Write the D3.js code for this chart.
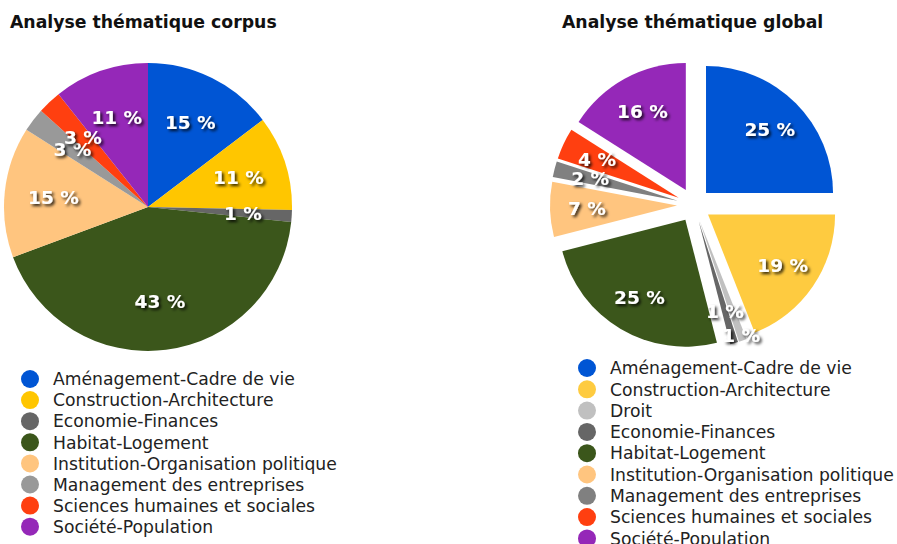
<!DOCTYPE html>
<html>
<head>
<meta charset="utf-8">
<script src="https://cdn.jsdelivr.net/npm/d3@7"></script>
<style>
  body { margin: 0; background: #fff; }
  text { font-family: "DejaVu Sans", Verdana, sans-serif; }
</style>
</head>
<body>
<div id="graph_container"></div>
<script>
// corpus data (counts)
var corpusThemes = ["Aménagement-Cadre de vie", "Construction-Architecture", "Economie-Finances",
    "Habitat-Logement", "Institution-Organisation politique", "Management des entreprises",
    "Sciences humaines et sociales", "Société-Population"];
var corpusValues = [11, 8, 1, 32, 11, 2, 2, 8];
var corpusColors = ["#0055d4", "#ffc600", "#666666", "#3b561b", "#ffc57f", "#999999", "#ff3f10", "#9528b8"];

// global data (percent)
var globalThemes = ["Aménagement-Cadre de vie", "Construction-Architecture", "Droit", "Economie-Finances",
    "Habitat-Logement", "Institution-Organisation politique", "Management des entreprises",
    "Sciences humaines et sociales", "Société-Population"];
var globalValues = [25, 19, 1, 1, 25, 7, 2, 4, 16];
var globalColors = ["#0055d4", "#fecb40", "#c0c0c0", "#666666", "#3b561b", "#ffc57f", "#808080", "#ff3f10", "#9528b8"];

var W = 897, H = 544;

var svg = d3.select("#graph_container").append("svg")
    .attr("width", W)
    .attr("height", H);

// shadow for the white labels
var defs = svg.append("defs");
defs.append("filter")
    .attr("id", "shadow")
    .attr("x", "-30%").attr("y", "-30%")
    .attr("width", "160%").attr("height", "160%")
  .append("feDropShadow")
    .attr("dx", 2).attr("dy", 2)
    .attr("stdDeviation", 1.5)
    .attr("flood-color", "#000")
    .attr("flood-opacity", 0.85);

function drawPie(opts) {
    var g = svg.append("g");

    g.append("text")
        .attr("x", opts.titleX)
        .attr("y", 28)
        .attr("font-size", "17.3px")
        .attr("font-weight", "bold")
        .attr("fill", "#111")
        .text(opts.title);

    var total = d3.sum(opts.values);
    var pie = d3.pie().sort(null).value(function(d) { return d; });
    var arcs = pie(opts.values);

    var arc = d3.arc().innerRadius(0).outerRadius(opts.r);
    var labelArc = d3.arc()
        .innerRadius(0)
        .outerRadius(function(d, i) { return opts.r * 2 * (opts.labelR[i] || opts.labelK); });

    function shift(d) {
        var a = (d.startAngle + d.endAngle) / 2;
        return [Math.sin(a) * opts.explode, -Math.cos(a) * opts.explode];
    }

    var pieG = g.append("g")
        .attr("transform", "translate(" + opts.cx + "," + opts.cy + ")");

    pieG.selectAll("path")
        .data(arcs)
        .enter()
        .append("path")
        .attr("transform", function(d) { return "translate(" + shift(d) + ")"; })
        .attr("d", arc)
        .attr("fill", function(d, i) { return opts.colors[i]; });

    // labels on top of every slice
    pieG.selectAll("text")
        .data(arcs)
        .enter()
        .append("text")
        .attr("transform", function(d, i) {
            var c = labelArc.centroid(d, i), s = shift(d);
            return "translate(" + (c[0] + s[0]) + "," + (c[1] + s[1]) + ")";
        })
        .attr("text-anchor", "middle")
        .attr("dy", "0.36em")
        .attr("font-size", "18.5px")
        .attr("font-weight", "bold")
        .attr("fill", "#fff")
        .attr("filter", "url(#shadow)")
        .text(function(d) { return Math.round(d.value / total * 100) + " %"; });

    // legend
    var leg = g.selectAll("g.leg")
        .data(opts.themes)
        .enter()
        .append("g")
        .attr("class", "leg")
        .attr("transform", function(d, i) {
            return "translate(" + opts.legX + "," + (opts.legY + i * opts.legStep) + ")";
        });

    leg.append("circle")
        .attr("r", 9)
        .attr("fill", function(d, i) { return opts.colors[i]; });

    leg.append("text")
        .attr("x", 23)
        .attr("dy", "0.36em")
        .attr("font-size", "17.2px")
        .attr("fill", "#222")
        .text(function(d) { return d; });
}

drawPie({
    title: "Analyse thématique corpus", titleX: 10,
    themes: corpusThemes, values: corpusValues, colors: corpusColors,
    cx: 148, cy: 207, r: 144, explode: 0,
    labelK: 0.66, labelR: {},
    legX: 30, legY: 379, legStep: 21.1
});

drawPie({
    title: "Analyse thématique global", titleX: 562,
    themes: globalThemes, values: globalValues, colors: globalColors,
    cx: 694, cy: 205, r: 127, explode: 17,
    labelK: 0.71, labelR: {2: 0.96, 3: 0.74},
    legX: 587, legY: 368, legStep: 21.3
});
</script>
</body>
</html>
